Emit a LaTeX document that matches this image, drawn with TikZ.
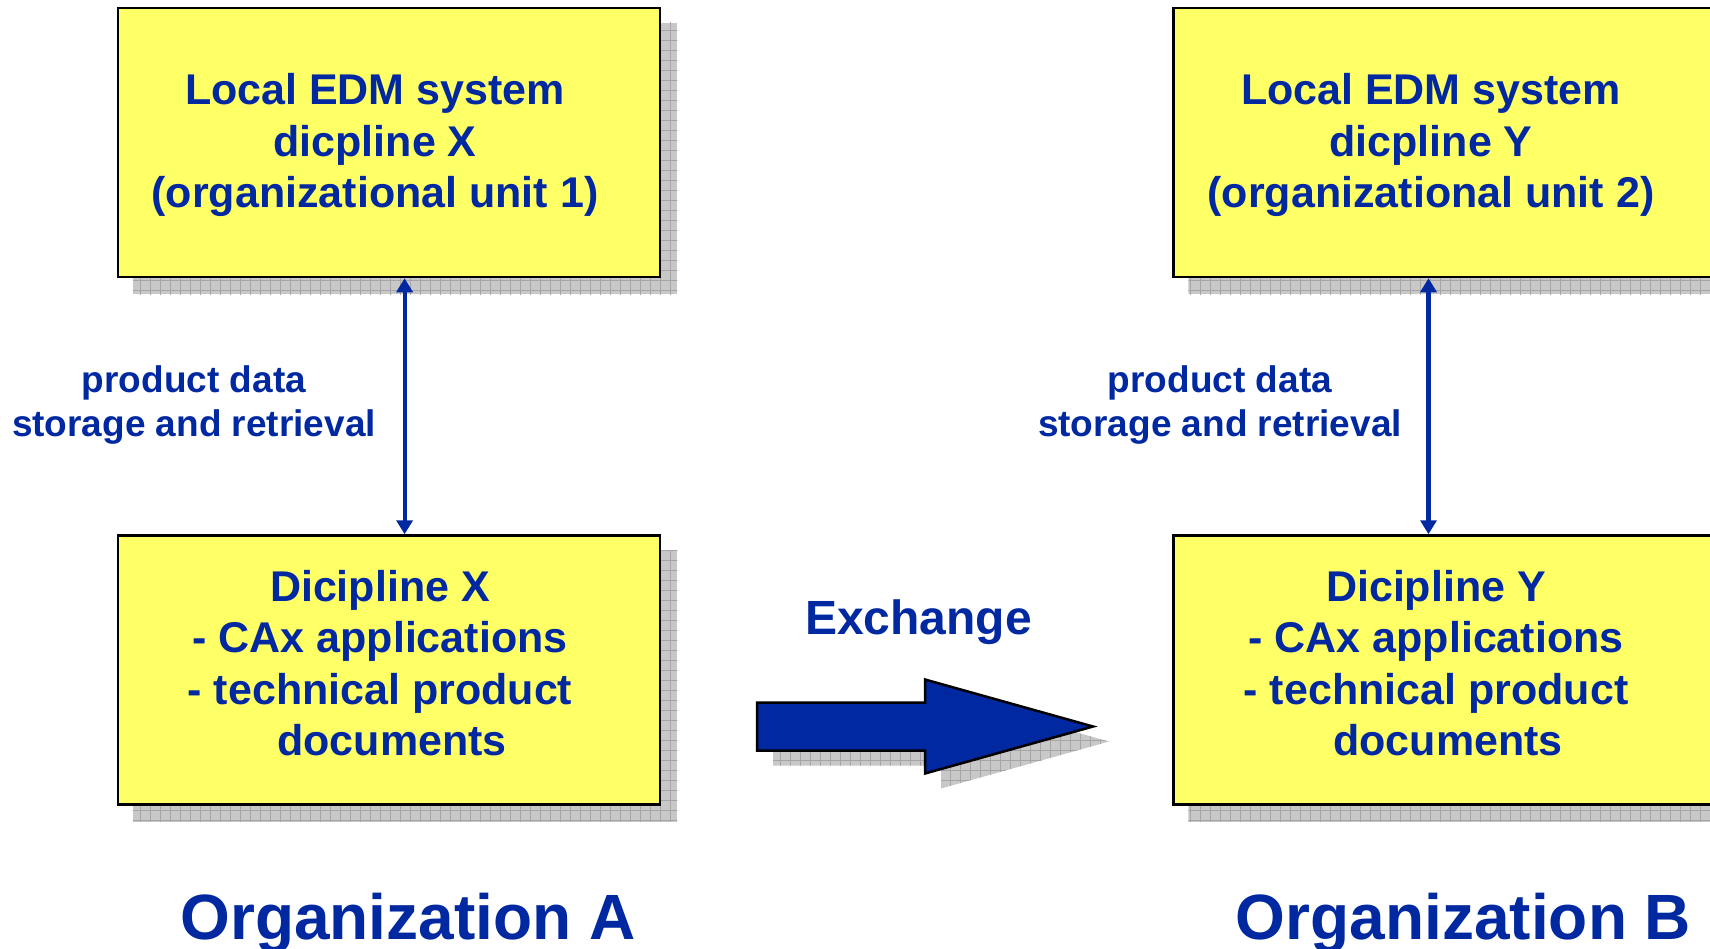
\documentclass[tikz,border=0pt]{standalone}
\usepackage{fontspec}
\setmainfont{Liberation Sans}
\usetikzlibrary{arrows.meta,backgrounds}
\definecolor{eblue}{RGB}{0,40,160}
\definecolor{boxy}{RGB}{255,255,102}
\definecolor{shc}{RGB}{200,200,200}
\definecolor{grc}{RGB}{165,165,165}
\newcommand\gshadow[1]{\begin{scope}\clip #1; \fill[shc] #1; \draw[grc,line width=0.8pt,step=10pt] (0,0) grid (1710,948); \end{scope}}
\begin{document}
\begin{tikzpicture}[x=1pt,y=-1pt,
  box/.style={draw=black, line width=2.5pt, fill=boxy, minimum width=542pt, minimum height=269pt, inner sep=0pt},
  boxtext/.style={text=eblue, align=center, font=\fontsize{43}{51.5}\selectfont\bfseries, inner sep=0pt},
  lbl/.style={text=eblue, align=center, font=\fontsize{37}{44}\selectfont\bfseries, inner sep=0pt},
  exch/.style={text=eblue, font=\fontsize{48}{56}\selectfont\bfseries, inner sep=0pt, anchor=base},
  org/.style={text=eblue, font=\fontsize{64}{72}\selectfont\bfseries, inner sep=0pt, anchor=base},
  varrow/.style={draw=eblue, line width=4.2pt, {Triangle[width=16pt,length=14pt]}-{Triangle[width=16pt,length=14pt]}},
  bigarrow/.style={draw=black, line width=2.5pt, fill=eblue, line join=miter},
]
\useasboundingbox (0,0) rectangle (1710,948);
\clip (0,0) rectangle (1710,948);

% boxes
\node[box] (locX) at (389,142.5) {};
\node[box] (discX) at (389,670) {};
\node[box] (locY) at (1444.5,142.5) {};
\node[box] (discY) at (1444.5,670) {};

% shadows
\begin{scope}[on background layer]
\foreach \n in {locX,discX,locY,discY}{
  \gshadow{([shift={(16,16)}]\n.north west) rectangle ([shift={(16,16)}]\n.south east)}
}
\gshadow{(773,718.5) -- (941,718.5) -- (941,694.5) -- (1109,741.5) -- (941,788.5) -- (941,765.5) -- (773,765.5) -- cycle}
\end{scope}

% box texts
\node[boxtext] (tLocX) at (375,145) {Local EDM system\\dicpline X\\(organizational unit 1)};
\node[boxtext] (tDiscX) at (380,663) {Dicipline X\\- CAx applications\\- technical product\\\hspace*{24pt}documents};
\node[boxtext] (tLocY) at (1431,145) {Local EDM system\\dicpline Y\\(organizational unit 2)};
\node[boxtext] (tDiscY) at (1436,663) {Dicipline Y\\- CAx applications\\- technical product\\\hspace*{24pt}documents};

% vertical arrows
\draw[varrow] ([xshift=15.6pt]locX.south) -- ([xshift=15.6pt]discX.north);
\draw[varrow] ([xshift=-16pt]locY.south) -- ([xshift=-16pt]discY.north);

% labels
\node[lbl] (lblX) at (194,405.5) {product data\\storage and retrieval};
\node[lbl] (lblY) at (1220,405.5) {product data\\storage and retrieval};

% exchange arrow
\path[bigarrow] (757,702.5) -- (925,702.5) -- (925,679.5) -- (1093,726.5) -- (925,773.5) -- (925,750.5) -- (757,750.5) -- cycle;
\node[exch] (exch) at (918.5,634) {Exchange};

% organizations
\node[org] (orgA) at (408,939) {Organization A};
\node[org] (orgB) at (1463.5,939) {Organization B};
\end{tikzpicture}
\end{document}
